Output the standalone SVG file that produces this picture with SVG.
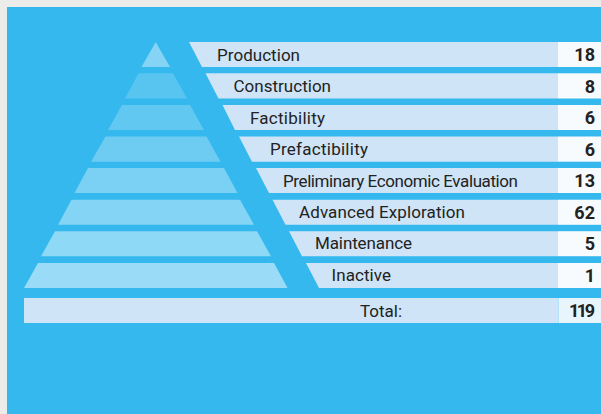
<svg xmlns="http://www.w3.org/2000/svg" width="601" height="414" viewBox="0 0 601 414">
<style>
.bar{fill:#cfe4f6}
.val{fill:#f8fbfe}
text{font-family:Roboto,"Noto Sans","Liberation Sans",sans-serif;fill:#222;font-size:17px}
.n{font-weight:700;font-size:18px;text-anchor:end}
</style>
<rect width="601" height="414" fill="#ececea"/>
<rect x="7" y="7" width="594" height="407" fill="#35b8ee"/>
<g id="pyramid">
<polygon points="155.7,42 170,67 141.5,67" fill="#85d4f5"/>
<polygon points="138.5,73.3 173,73.3 187,98.5 125,98.5" fill="#58c5f1"/>
<polygon points="122,105 190,105 204,130 108,130" fill="#61c8f2"/>
<polygon points="105.5,136.5 206.5,136.5 220.5,161.7 91,161.7" fill="#6eccf3"/>
<polygon points="88,168 224,168 237.5,193 74.5,193" fill="#7ad1f4"/>
<polygon points="71.5,199.7 240,199.7 254,224.8 58,224.8" fill="#83d4f5"/>
<polygon points="55,231.2 257,231.2 271,256.2 41,256.2" fill="#8ed9f6"/>
<polygon points="38,263 274,263 287.5,288 24,288" fill="#9adcf7"/>
</g>
<g id="row-production"><polygon class="bar" points="189,42 558,42 558,67 202,67"/><rect class="val" x="558" y="42" width="43" height="25"/><text x="217" y="61" textLength="83">Production</text><text class="n" x="595" y="61">18</text></g>
<g id="row-construction"><polygon class="bar" points="205.5,73.3 558,73.3 558,98.5 218.5,98.5"/><rect class="val" x="558" y="73.3" width="43" height="25.2"/><text x="233.500" y="92" textLength="97.500">Construction</text><text class="n" x="595" y="92.500">8</text></g>
<g id="row-factibility"><polygon class="bar" points="222.500,105 558,105 558,130 235,130"/><rect class="val" x="558" y="105" width="43" height="25"/><text x="250" y="124" textLength="75">Factibility</text><text class="n" x="595" y="124">6</text></g>
<g id="row-prefactibility"><polygon class="bar" points="239,136.500 558,136.500 558,161.700 252,161.700"/><rect class="val" x="558" y="136.500" width="43" height="25.200"/><text x="270" y="155" textLength="98">Prefactibility</text><text class="n" x="595" y="155.500">6</text></g>
<g id="row-preliminary"><polygon class="bar" points="256,168 558,168 558,193 269,193"/><rect class="val" x="558" y="168" width="43" height="25"/><text x="283" y="187" textLength="235">Preliminary Economic Evaluation</text><text class="n" x="595" y="187">13</text></g>
<g id="row-advanced"><polygon class="bar" points="272.500,199.700 558,199.700 558,224.800 285.500,224.800"/><rect class="val" x="558" y="199.700" width="43" height="25.100"/><text x="299" y="218" textLength="166">Advanced Exploration</text><text class="n" x="595" y="218.500">62</text></g>
<g id="row-maintenance"><polygon class="bar" points="289,231.200 558,231.200 558,256.200 302,256.200"/><rect class="val" x="558" y="231.200" width="43" height="25"/><text x="315" y="249" textLength="97">Maintenance</text><text class="n" x="595" y="250">5</text></g>
<g id="row-inactive"><polygon class="bar" points="306,263 558,263 558,288 319,288"/><rect class="val" x="558" y="263" width="43" height="25"/><text x="331.500" y="281" textLength="59.500">Inactive</text><text class="n" x="595" y="282">1</text></g>
<g id="row-total"><rect class="bar" x="24" y="298" width="534.500" height="25"/><rect x="558.500" y="298" width="42.500" height="25" fill="#e8f5fd"/><text x="360" y="317" textLength="42">Total:</text><text class="n" x="595" y="317" textLength="26">119</text></g>
</svg>
